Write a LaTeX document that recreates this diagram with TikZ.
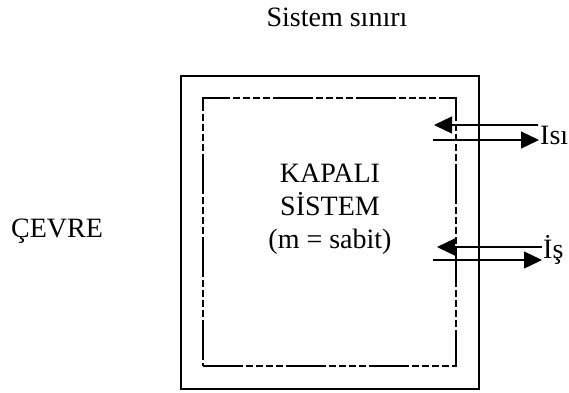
\documentclass[tikz,border=0pt]{standalone}
\usepackage{fontspec}
\setmainfont{Liberation Serif}
\usetikzlibrary{arrows.meta}
\tikzset{
  wall/.style={draw, line width=1.6pt, inner sep=0pt, minimum width=298pt, minimum height=313pt},
  bound/.style={draw, line width=1.3pt, inner sep=0pt, minimum width=253pt, minimum height=268pt,
    dash pattern=on 40pt off 3pt on 7pt off 3pt on 7pt off 3pt on 7pt off 3pt on 7pt off 3pt},
  flow/.style={line width=1.3pt, -{Triangle[length=18pt,width=17pt]}},
  lbl/.style={inner sep=0pt, anchor=base, font=\fontsize{28}{33}\selectfont},
}
\begin{document}
\begin{tikzpicture}[x=1pt,y=-1pt]
\useasboundingbox (0,0) rectangle (569,392);

% system walls: solid outer, dashed inner boundary
\node[wall] (outer) at (330,232.5) {};
\node[bound] (inner) at (329.5,232) {};

% labels
\node[lbl] (title) at (337,26) {Sistem sınırı};
\node[lbl] (env) at (57,237) {ÇEVRE};
\node[lbl] (l1) at (330,182) {KAPALI};
\node[lbl] (l2) at (330,215) {SİSTEM};
\node[lbl] (l3) at (330,248) {(m = sabit)};

% heat exchange
\coordinate (qin)  at (538,125);
\coordinate (qtip) at (434,125);
\coordinate (qout) at (433,140);
\coordinate (qend) at (539,140);
\draw[flow] (qin) -- (qtip);
\draw[flow] (qout) -- (qend);
\node[lbl, anchor=base west] (heat) at (540,144) {Isı};

% work exchange
\coordinate (win)  at (542,247);
\coordinate (wtip) at (437,247);
\coordinate (wout) at (433,260);
\coordinate (wend) at (542,260);
\draw[flow] (win) -- (wtip);
\draw[flow] (wout) -- (wend);
\node[lbl, anchor=base west] (work) at (543,258) {İş};
\end{tikzpicture}
\end{document}
